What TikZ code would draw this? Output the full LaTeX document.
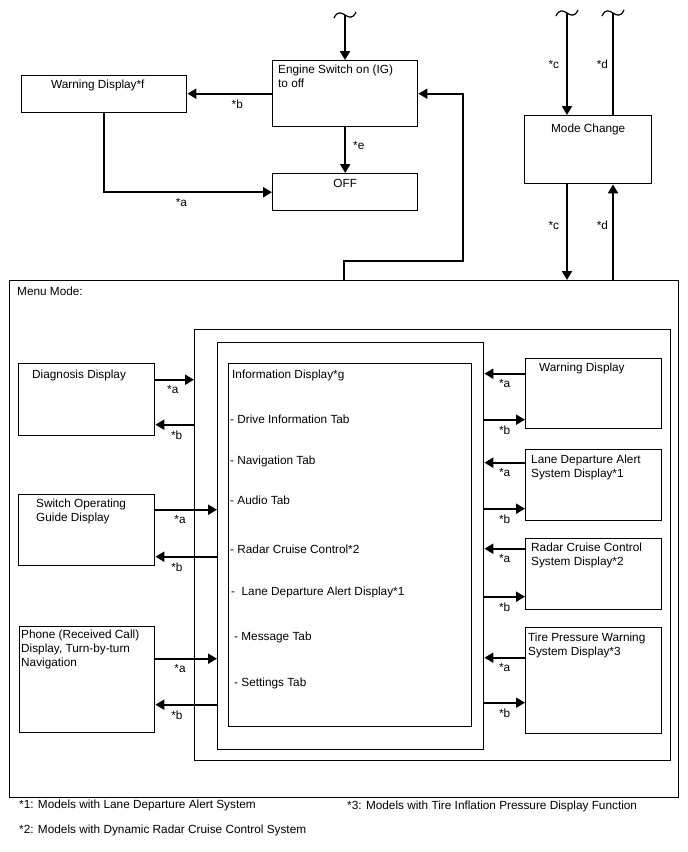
\documentclass[tikz,border=0pt]{standalone}
\usepackage{fontspec}
\setmainfont{Liberation Sans}
\usetikzlibrary{arrows.meta,positioning}

\begin{document}
\begin{tikzpicture}[
  x=1pt, y=-1pt,
  font=\fontsize{11.8}{14}\selectfont,
  box/.style n args={2}{draw, line width=1.4pt, anchor=north west,
    inner sep=0pt, minimum width=#1, minimum height=#2},
  txt/.style={anchor=base west, inner sep=0pt, align=left},
  ctxt/.style={anchor=base, inner sep=0pt},
  tag/.style={inner sep=4pt},
  flow/.style={-{Triangle[length=9pt,width=10pt]}, line width=2pt},
  wire/.style={line width=2pt},
  squig/.style={line width=1.2pt}
]
  \useasboundingbox (0,0) rectangle (688,852);

  % upper part
  \node[box={165pt}{37pt}, label={[txt, xshift=30pt, yshift=-13pt]north west:Warning Display*f}] (warnf) at (21,75) {};
  \node[box={145pt}{66pt}, label={[txt, xshift=6pt, yshift=-27pt]north west:Engine Switch on (IG)\\to off}] (engine) at (272,60) {};
  \node[box={145pt}{37pt}, label={[ctxt, yshift=-14pt]north:OFF}] (off) at (272,173) {};
  \node[box={127pt}{68pt}, label={[ctxt, yshift=-17pt]north:Mode Change}] (mode) at (524,115) {};

  \coordinate (sqE) at (345,15);
  \coordinate (sqC) at (567,13);
  \coordinate (sqD) at (613,13);
  \coordinate (ret) at (463,261);

  % menu mode
  \node[box={669pt}{517pt}, label={[txt, xshift=8pt, yshift=-15.5pt]north west:Menu Mode:}] (menu) at (9,280) {};
  \node[box={476pt}{431pt}] (outer) at (194,329) {};
  \node[box={266pt}{407pt}] (inner) at (217,342) {};
  \node[box={243pt}{363pt}] (info) at (228,363) {};

  \node[txt] (tabhead) at (232,378) {Information Display*g};
  \node[txt] (tab1) at (230,423) {- Drive Information Tab};
  \node[txt] (tab2) at (230,464) {- Navigation Tab};
  \node[txt] (tab3) at (230,504) {- Audio Tab};
  \node[txt] (tab4) at (230,553) {- Radar Cruise Control*2};
  \node[txt] (tab5) at (231,595) {-\ \ Lane Departure Alert Display*1};
  \node[txt] (tab6) at (234,640) {- Message Tab};
  \node[txt] (tab7) at (234,686) {- Settings Tab};

  \node[box={136pt}{72pt}, label={[txt, xshift=14pt, yshift=-15pt]north west:Diagnosis Display}] (diag) at (18,363) {};
  \node[box={136pt}{71pt}, label={[txt, xshift=18pt, yshift=-27pt]north west:Switch Operating\\Guide Display}] (switch) at (18,494) {};
  \node[box={135pt}{106pt}, label={[txt, xshift=2pt, yshift=-40.5pt]north west:Phone (Received Call)\\Display, Turn-by-turn\\Navigation}] (phone) at (19,626) {};

  \node[box={136pt}{70pt}, label={[txt, xshift=14pt, yshift=-13pt]north west:Warning Display}] (warn) at (525,358) {};
  \node[box={136pt}{71pt}, label={[txt, xshift=6pt, yshift=-28pt]north west:Lane Departure Alert\\System Display*1}] (lane) at (525,449) {};
  \node[box={136pt}{71pt}, label={[txt, xshift=6pt, yshift=-27pt]north west:Radar Cruise Control\\System Display*2}] (radar) at (525,538) {};
  \node[box={136pt}{106pt}, label={[txt, xshift=3pt, yshift=-28pt]north west:Tire Pressure Warning\\System Display*3}] (tire) at (525,627) {};

  % notes
  \node[txt] (note1) at (19,808) {*1: Models with Lane Departure Alert System};
  \node[txt] (note2) at (19,833) {*2: Models with Dynamic Radar Cruise Control System};
  \node[txt] (note3) at (347,809) {*3: Models with Tire Inflation Pressure Display Function};

  % squiggles
  \draw[squig] (sqE) ++(-11,3) .. controls +(7,-15) and +(-7,15) .. ++(22,-6);
  \draw[squig] (sqC) ++(-11,3) .. controls +(7,-15) and +(-7,15) .. ++(22,-6);
  \draw[squig] (sqD) ++(-11,3) .. controls +(7,-15) and +(-7,15) .. ++(22,-6);

  % top connectors
  \draw[flow] (sqE) -- (sqE |- engine.north);
  \draw[flow] (engine.west) -- node[tag, below=1pt, pos=.41]{*b} (engine.west -| warnf.east);
  \draw[flow] (engine.south) -- node[tag, right=3pt, pos=.4]{*e} (off.north);
  \draw[flow] (warnf.south) |- node[tag, below=1pt, pos=.73]{*a} (off.west);
  \draw[flow] (menu.north) |- (ret) |- (engine.east);

  \draw[flow] (sqC) -- node[tag, left=3pt]{*c} (sqC |- mode.north);
  \draw[wire] (sqD |- mode.north) -- node[tag, left]{*d} (sqD);
  \draw[flow] (sqC |- mode.south) -- node[tag, left=3pt, pos=.43]{*c} (sqC |- menu.north);
  \draw[flow] (sqD |- menu.north) -- node[tag, left, pos=.57]{*d} (sqD |- mode.south);

  % left connectors
  \draw[flow] (diag.east) ++(0,-20) coordinate (da) -- node[tag, below=1pt, pos=.45]{*a} (da -| outer.west);
  \draw[flow] (outer.west |- diag.east) ++(0,25) coordinate (db) -- node[tag, below=1pt, pos=.45]{*b} (db -| diag.east);
  \draw[flow] (switch.east) ++(0,-20.5) coordinate (sa) -- node[tag, below=1pt, pos=.4]{*a} (sa -| inner.west);
  \draw[flow] (inner.west |- switch.east) ++(0,26.5) coordinate (sb) -- node[tag, below=1pt, pos=.65]{*b} (sb -| switch.east);
  \draw[flow] (phone.east) ++(0,-21) coordinate (pa) -- node[tag, below=1pt, pos=.4]{*a} (pa -| inner.west);
  \draw[flow] (inner.west |- phone.east) ++(0,25) coordinate (pb) -- node[tag, below=1pt, pos=.65]{*b} (pb -| phone.east);

  % right connectors
  \draw[flow] (warn.west) ++(0,-20) coordinate (wa) -- node[tag, below=1pt]{*a} (wa -| inner.east);
  \draw[flow] (inner.east |- warn.west) ++(0,26) coordinate (wb) -- node[tag, below=1pt]{*b} (wb -| warn.west);
  \draw[flow] (lane.west) ++(0,-22.5) coordinate (la) -- node[tag, below=1pt]{*a} (la -| inner.east);
  \draw[flow] (inner.east |- lane.west) ++(0,23.5) coordinate (lb) -- node[tag, below=1pt]{*b} (lb -| lane.west);
  \draw[flow] (radar.west) ++(0,-25.5) coordinate (ra) -- node[tag, below=1pt]{*a} (ra -| inner.east);
  \draw[flow] (inner.east |- radar.west) ++(0,22.5) coordinate (rb) -- node[tag, below=1pt]{*b} (rb -| radar.west);
  \draw[flow] (tire.west) ++(0,-23) coordinate (ta) -- node[tag, below=1pt]{*a} (ta -| inner.east);
  \draw[flow] (inner.east |- tire.west) ++(0,22) coordinate (tb) -- node[tag, below=1pt]{*b} (tb -| tire.west);
\end{tikzpicture}
\end{document}
